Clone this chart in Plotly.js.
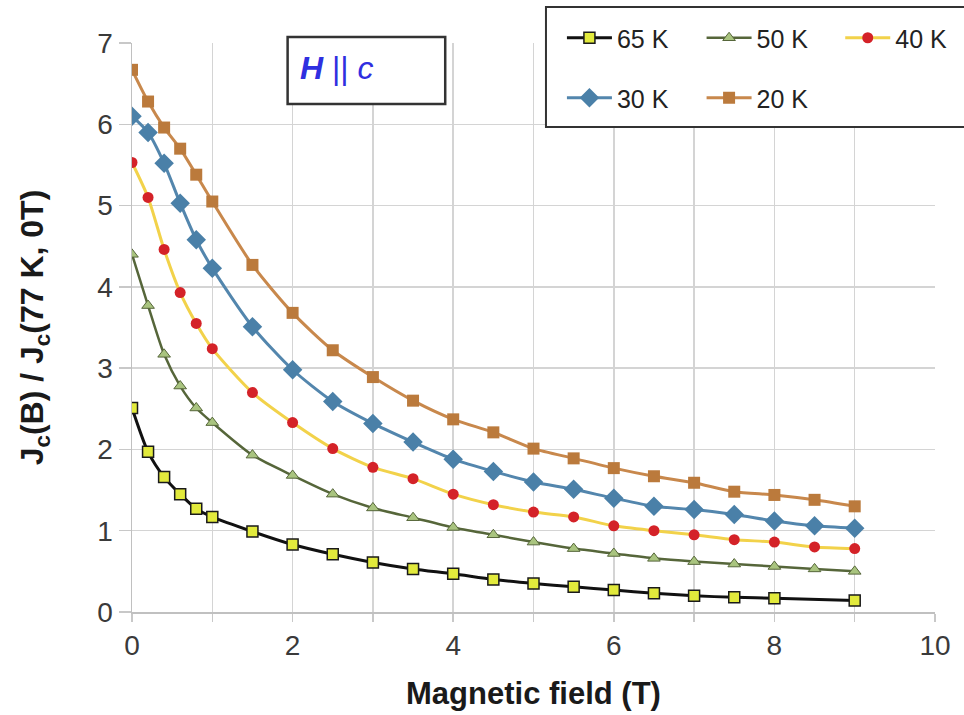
<!DOCTYPE html>
<html>
<head>
<meta charset="utf-8">
<script src="https://cdn.plot.ly/plotly-3.0.1.min.js"></script>
<style>html,body{margin:0;padding:0;background:#fff;}#chart{width:964px;height:715px;}</style>
</head>
<body>
<div id="chart"></div>
<script>
// Magnetic field values (T)
const fieldAll = [0, 0.2, 0.4, 0.6, 0.8, 1, 1.5, 2, 2.5, 3, 3.5, 4, 4.5, 5, 5.5, 6, 6.5, 7, 7.5, 8, 8.5, 9];
const field65 = [0, 0.2, 0.4, 0.6, 0.8, 1, 1.5, 2, 2.5, 3, 3.5, 4, 4.5, 5, 5.5, 6, 6.5, 7, 7.5, 8, 9];
// Jc(B)/Jc(77K,0T)
const jc65 = [2.51, 1.97, 1.66, 1.45, 1.27, 1.17, 0.99, 0.83, 0.71, 0.61, 0.53, 0.47, 0.40, 0.35, 0.31, 0.27, 0.23, 0.20, 0.18, 0.17, 0.14];
const jc50 = [4.40, 3.77, 3.17, 2.78, 2.51, 2.33, 1.93, 1.68, 1.45, 1.28, 1.16, 1.04, 0.95, 0.86, 0.78, 0.72, 0.66, 0.62, 0.59, 0.56, 0.53, 0.50];
const jc40 = [5.53, 5.10, 4.46, 3.93, 3.55, 3.24, 2.70, 2.33, 2.01, 1.78, 1.64, 1.45, 1.32, 1.23, 1.17, 1.06, 1.00, 0.95, 0.89, 0.86, 0.80, 0.78];
const jc30 = [6.10, 5.90, 5.52, 5.03, 4.58, 4.23, 3.51, 2.98, 2.59, 2.32, 2.09, 1.88, 1.73, 1.60, 1.51, 1.40, 1.30, 1.26, 1.20, 1.12, 1.06, 1.03];
const jc20 = [6.67, 6.28, 5.96, 5.70, 5.38, 5.05, 4.27, 3.68, 3.22, 2.89, 2.60, 2.37, 2.21, 2.01, 1.89, 1.77, 1.67, 1.59, 1.48, 1.44, 1.38, 1.30];
const seriesNames = ['65 K', '50 K', '40 K', '30 K', '20 K'];
const xTickVals = [0, 2, 4, 6, 8, 10];
const yTickVals = [0, 1, 2, 3, 4, 5, 6, 7];

// plot area in pixels
const L = 132, R = 937, T = 43, B = 612;
const px = v => (v - L) / (R - L);
const py = v => (B - v) / (B - T);

const FONT = 'Liberation Sans, Arial, sans-serif';
const sm = 0.7;

const traces = [
  {x: field65, y: jc65, name: seriesNames[0], legend: 'legend',
   mode: 'lines+markers', line: {color: '#111111', width: 3, shape: 'spline', smoothing: sm},
   marker: {symbol: 'square', size: 11, color: '#e2ea3c', line: {color: '#1a1a1a', width: 1.5}}},
  {x: fieldAll, y: jc50, name: seriesNames[1], legend: 'legend2',
   mode: 'lines+markers', line: {color: '#56663a', width: 2.5, shape: 'spline', smoothing: sm},
   marker: {symbol: 'triangle-up', size: 11, color: '#a9c47f', line: {color: '#56663a', width: 1}}},
  {x: fieldAll, y: jc40, name: seriesNames[2], legend: 'legend3',
   mode: 'lines+markers', line: {color: '#f2d24a', width: 3, shape: 'spline', smoothing: sm},
   marker: {symbol: 'circle', size: 11, color: '#d42228', line: {width: 0}}},
  {x: fieldAll, y: jc30, name: seriesNames[3], legend: 'legend4',
   mode: 'lines+markers', line: {color: '#5386ad', width: 3, shape: 'spline', smoothing: sm},
   marker: {symbol: 'diamond', size: 15, color: '#4a80a8', line: {width: 0}}},
  {x: fieldAll, y: jc20, name: seriesNames[4], legend: 'legend5',
   mode: 'lines+markers', line: {color: '#c8884c', width: 3, shape: 'spline', smoothing: sm},
   marker: {symbol: 'square', size: 12, color: '#bb7a3c', line: {width: 0}}}
];

function leg(xpix, ypix) {
  return {x: px(xpix), y: py(ypix), xref: 'paper', yref: 'paper', xanchor: 'left', yanchor: 'middle',
    bgcolor: 'rgba(0,0,0,0)', borderwidth: 0, font: {family: FONT, size: 25, color: '#222'},
    itemwidth: 45, itemclick: false, itemdoubleclick: false};
}

const layout = {
  width: 964, height: 715,
  margin: {l: L, r: 964 - R, t: T, b: 715 - B},
  paper_bgcolor: '#ffffff', plot_bgcolor: '#ffffff',
  showlegend: true,
  font: {family: FONT, color: '#333'},
  xaxis: {
    range: [0, 10], tickvals: xTickVals, ticktext: xTickVals.map(String),
    showgrid: true, gridcolor: '#d4d4d4', gridwidth: 1.5,
    minor: {dtick: 1, showgrid: true, gridcolor: '#d4d4d4', gridwidth: 1.5, ticks: 'outside', ticklen: 8, tickcolor: '#c8c8c8'},
    zeroline: false, showline: true, linecolor: '#c0c0c0', linewidth: 1.5,
    ticks: 'outside', ticklen: 8, tickcolor: '#c8c8c8', tickwidth: 1.5,
    tickfont: {family: FONT, size: 28, color: '#3a3a3a'},
    title: {text: '<b>Magnetic field (T)</b>', font: {family: FONT, size: 31, color: '#1a1a1a'}, standoff: 22}
  },
  yaxis: {
    range: [0, 7], tickvals: yTickVals, ticktext: yTickVals.map(String),
    showgrid: true, gridcolor: '#d4d4d4', gridwidth: 1.5,
    zeroline: false, showline: true, linecolor: '#c0c0c0', linewidth: 1.5,
    ticks: 'outside', ticklen: 12, tickcolor: '#c8c8c8', tickwidth: 1.5,
    tickfont: {family: FONT, size: 28, color: '#3a3a3a'},
    title: {text: '<b>J<sub>c</sub>(B) / J<sub>c</sub>(77 K, 0T)</b>', font: {family: FONT, size: 32, color: '#1a1a1a'}, standoff: 44}
  },
  legend: leg(563, 38),
  legend2: leg(703, 38),
  legend3: leg(842, 38),
  legend4: leg(563, 98),
  legend5: leg(703, 98),
  shapes: [
    {type: 'rect', xref: 'paper', yref: 'paper', x0: px(547), x1: px(980), y0: py(127), y1: py(7),
     fillcolor: '#ffffff', line: {color: '#333333', width: 2}, layer: 'above'},
    {type: 'rect', xref: 'paper', yref: 'paper', x0: px(288), x1: px(446), y0: py(104), y1: py(37),
     fillcolor: '#ffffff', line: {color: '#333333', width: 2.5}, layer: 'above'}
  ],
  annotations: [
    {xref: 'paper', yref: 'paper', x: px(298), y: py(68), xanchor: 'left', yanchor: 'middle', showarrow: false,
     text: '<b><i>H</i></b> || <i>c</i>', font: {family: FONT, size: 32, color: '#2f2fe0'}}
  ]
};

Plotly.newPlot('chart', traces, layout, {displayModeBar: false, staticPlot: true});
</script>
</body>
</html>
